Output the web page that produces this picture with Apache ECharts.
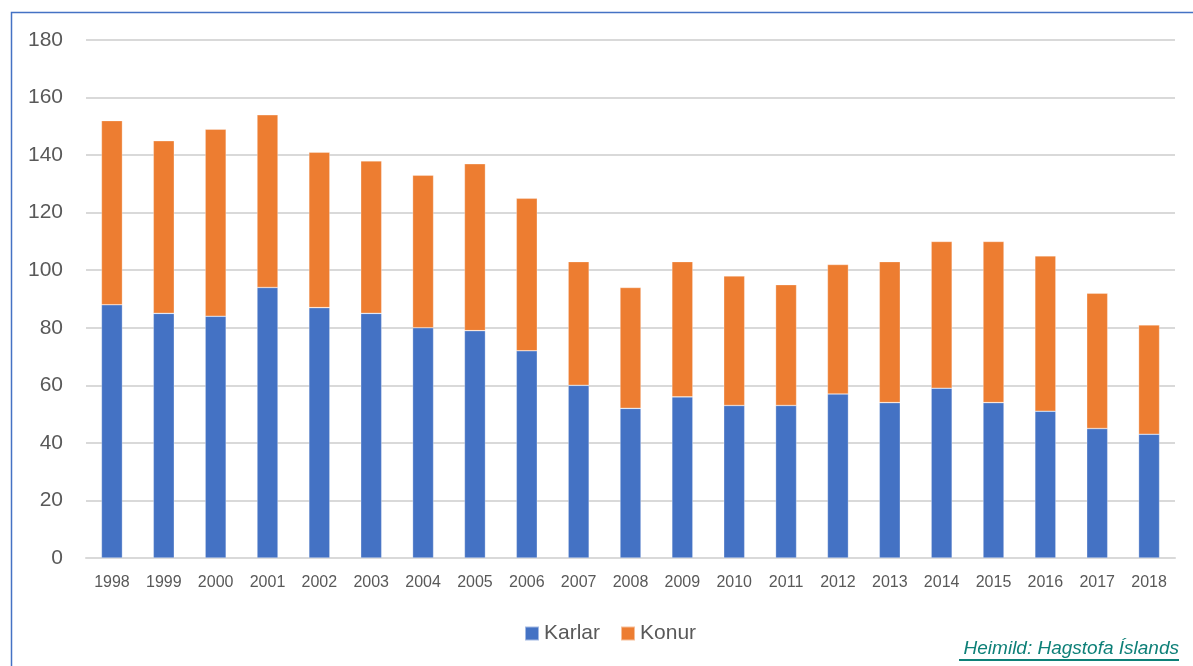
<!DOCTYPE html>
<html>
<head>
<meta charset="utf-8">
<style>
html,body{margin:0;padding:0;background:#fff;}
#chart{width:1193px;height:666px;}
</style>
<script src="https://cdn.jsdelivr.net/npm/echarts@6/dist/echarts.min.js"></script>
</head>
<body>
<div id="chart"></div>
<script>
const years = ['1998','1999','2000','2001','2002','2003','2004','2005','2006','2007','2008','2009','2010','2011','2012','2013','2014','2015','2016','2017','2018'];
const karlar = [88,85,84,94,87,85,80,79,72,60,52,56,53,53,57,54,59,54,51,45,43];
const konur  = [64,60,65,60,54,53,53,58,53,43,42,47,45,42,45,49,51,56,54,47,38];
const yTicks = [0,20,40,60,80,100,120,140,160,180];
const sourceText = 'Heimild: Hagstofa Íslands';

const font = '"Liberation Sans", Arial, sans-serif';
const chart = echarts.init(document.getElementById('chart'));
chart.setOption({
  animation: false,
  backgroundColor: '#fff',
  grid: {left: 86, right: 18, top: 40, bottom: 108, containLabel: false},
  legend: {
    data: ['Karlar','Konur'],
    left: 519, top: 618,
    itemWidth: 14, itemHeight: 14, itemGap: 20,
    icon: 'rect',
    textStyle: {fontFamily: font, fontSize: 21, color: '#595959'}
  },
  xAxis: {
    type: 'category',
    data: years,
    axisLine: {show: true, lineStyle: {color: '#d9d9d9', width: 2}},
    axisTick: {show: false},
    axisLabel: {fontFamily: font, fontSize: 16, color: '#595959', margin: 17}
  },
  yAxis: {
    type: 'value',
    min: yTicks[0], max: yTicks[yTicks.length-1], interval: 20,
    axisLine: {show: false},
    axisTick: {show: false},
    axisLabel: {fontFamily: font, fontSize: 21, color: '#595959', margin: 23},
    splitLine: {lineStyle: {color: '#d9d9d9', width: 2}}
  },
  series: [
    {name: 'Karlar', type: 'bar', stack: 'a', data: karlar, barWidth: 21,
     itemStyle: {color: '#4472C4', borderColor: 'rgba(255,255,255,0.5)', borderWidth: 0.6}},
    {name: 'Konur', type: 'bar', stack: 'a', data: konur, barWidth: 21,
     itemStyle: {color: '#ED7D31', borderColor: 'rgba(255,255,255,0.5)', borderWidth: 0.6}}
  ],
  graphic: [
    {type: 'rect', left: 9, top: 10, silent: true,
     shape: {width: 1250, height: 720},
     style: {fill: 'none', stroke: '#4472C4', lineWidth: 1.5}},
    {type: 'text', right: 14, top: 639,
     style: {text: sourceText, fontFamily: font, fontStyle: 'italic', fontSize: 19, fill: '#0E8078'}},
    {type: 'rect', left: 959, top: 659, silent: true,
     shape: {width: 220, height: 2},
     style: {fill: '#0E8078'}}
  ]
});
</script>
</body>
</html>
